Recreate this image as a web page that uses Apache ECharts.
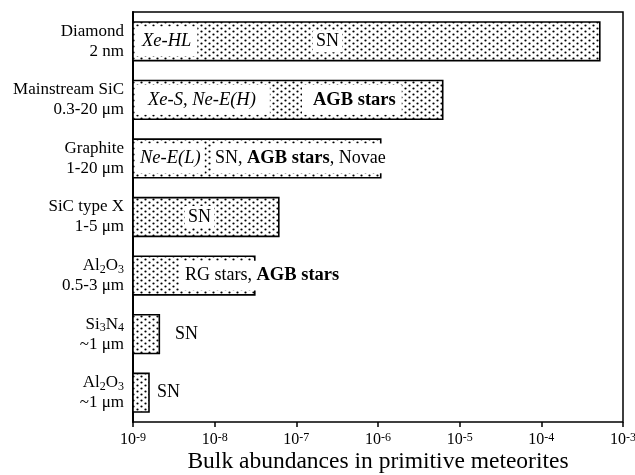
<!DOCTYPE html>
<html><head><meta charset="utf-8">
<script src="https://cdn.jsdelivr.net/npm/echarts@6/dist/echarts.min.js"></script>
<style>html,body{margin:0;padding:0;background:#fff}#c{width:635px;height:475px}</style>
</head><body><div id="c"></div>
<script>
// ---- data ----
const categories = [
  'Diamond\n2 nm',
  'Mainstream SiC\n0.3-20 μm',
  'Graphite\n1-20 μm',
  'SiC type X\n1-5 μm',
  'Al2O3\n0.5-3 μm',
  'Si3N4\n~1 μm',
  'Al2O3\n~1 μm'
];
const abundances = [5.2e-4, 6.2e-6, 1.08e-6, 6.1e-8, 3.1e-8, 2.1e-9, 1.57e-9];
const tickExponents = [-9, -8, -7, -6, -5, -4, -3];
const axisTitle = 'Bulk abundances in primitive meteorites';
// label text per bar: groups of [style, text]
const barLabels = [
  [[['i', 'Xe-HL']], [['n', 'SN']]],
  [[['i', 'Xe-S, Ne-E(H)']], [['b', 'AGB stars']]],
  [[['i', 'Ne-E(L)']], [['n', 'SN, '], ['b', 'AGB stars'], ['n', ', Novae']]],
  [[['n', 'SN']]],
  [[['n', 'RG stars, '], ['b', 'AGB stars']]],
  [[['n', 'SN']]],
  [[['n', 'SN']]]
];

// ---- layout / style ----
const FONT = "'Liberation Serif', 'Times New Roman', serif";
const X_MIN = 1e-9, X_MAX = 1e-3;
const BAR_RATIO = 0.66;
// per label group: dx from bar start, paddings, background mode
const LABEL_LAYOUT = [
  [{dx: 3, pl: 6, pr: 6, bg: 'full'}, {dx: 180, pl: 3, pr: 3, bg: 'tight'}],
  [{dx: 3, pl: 12, pr: 14, bg: 'full'}, {dx: 169, pl: 11, pr: 6, bg: 'full'}],
  [{dx: 3, pl: 4, pr: 4, bg: 'full'}, {dx: 79, pl: 3, pr: 1, bg: 'full'}],
  [{dx: 52, pl: 3, pr: 3, bg: 'tight'}],
  [{dx: 47, pl: 5, pr: 4, bg: 'full'}],
  [{dx: 42, pl: 0, pr: 0, bg: null}],
  [{dx: 24, pl: 0, pr: 0, bg: null}]
];
const LABEL_RICH = {
  i: {fontFamily: FONT, fontSize: 18.5, fontStyle: 'italic', lineHeight: 20, color: '#000'},
  n: {fontFamily: FONT, fontSize: 18, lineHeight: 20, color: '#000'},
  b: {fontFamily: FONT, fontSize: 18.5, fontWeight: 'bold', lineHeight: 20, color: '#000'}
};

function makePattern() {
  const cv = document.createElement('canvas');
  cv.width = 8; cv.height = 6;
  const ctx = cv.getContext('2d');
  ctx.fillStyle = '#fff'; ctx.fillRect(0, 0, 8, 6);
  ctx.fillStyle = '#000';
  [[1.5, 1.5], [5.5, 4.5]].forEach(([x, y]) => {
    ctx.beginPath(); ctx.arc(x, y, 1.1, 0, Math.PI * 2); ctx.fill();
  });
  return {image: cv, repeat: 'repeat'};
}
const pattern = makePattern();

const chart = echarts.init(document.getElementById('c'), null, {renderer: 'canvas'});

const seriesData = abundances.map((v, i) => [v, i]);

chart.setOption({
  animation: false,
  backgroundColor: '#fff',
  grid: {left: 133, right: 12, top: 12, bottom: 53, show: true, borderColor: '#000', borderWidth: 1.5,
         backgroundColor: 'transparent', containLabel: false, outerBoundsMode: 'none'},
  xAxis: {
    type: 'log', logBase: 10, min: X_MIN, max: X_MAX, splitNumber: 6,
    splitLine: {show: false},
    axisLine: {lineStyle: {color: '#000', width: 2}},
    axisTick: {show: true, inside: false, length: 5, lineStyle: {color: '#000', width: 1.5}},
    minorTick: {show: false},
    axisLabel: {
      margin: 10, color: '#000',
      formatter: v => {
        const e = Math.round(Math.log10(v));
        return '{a|10}{s|' + e + '}';
      },
      rich: {
        a: {fontFamily: FONT, fontSize: 16, lineHeight: 16, color: '#000'},
        s: {fontFamily: FONT, fontSize: 12, lineHeight: 10, verticalAlign: 'top', color: '#000'}
      }
    },
    name: axisTitle, nameLocation: 'middle', nameGap: 28, nameMoveOverlap: false,
    nameTextStyle: {fontFamily: FONT, fontSize: 23.5, color: '#000'}
  },
  yAxis: {
    type: 'category', data: categories, inverse: true,
    axisTick: {show: false},
    axisLine: {lineStyle: {color: '#000', width: 2}},
    axisLabel: {
      margin: 9, color: '#000', fontFamily: FONT, fontSize: 17, lineHeight: 20, align: 'right',
      formatter: v => {
        const lines = v.split('\n');
        lines[0] = lines[0].replace(/([A-Za-z])(\d)/g, '$1{s|$2}');
        return lines.join('\n');
      },
      rich: {
        s: {fontFamily: FONT, fontSize: 12, lineHeight: 12, verticalAlign: 'bottom', color: '#000'}
      }
    }
  },
  series: [{
    type: 'custom',
    data: seriesData,
    encode: {x: 0, y: 1},
    clip: false,
    renderItem: (params, api) => {
      const idx = params.dataIndex;
      const v = api.value(0), c = api.value(1);
      const p0 = api.coord([X_MIN, c]);
      const p1 = api.coord([v, c]);
      const band = api.size([1, 1])[1];
      const h = band * BAR_RATIO;
      const children = [{
        type: 'rect',
        shape: {x: p0[0], y: p0[1] - h / 2, width: p1[0] - p0[0], height: h},
        style: {fill: pattern, stroke: '#000', lineWidth: 1.6}
      }];
      barLabels[idx].forEach((group, gi) => {
        const L = LABEL_LAYOUT[idx][gi];
        const vpad = L.bg === 'full' ? (h - 9 - 20) / 2 : 1;
        children.push({
          type: 'text',
          x: p0[0] + L.dx, y: p0[1],
          style: {
            text: group.map(([k, t]) => '{' + k + '|' + t + '}').join(''),
            rich: LABEL_RICH,
            fill: '#000',
            font: '18px ' + FONT,
            backgroundColor: L.bg ? '#fff' : null,
            padding: [vpad, L.pr, vpad, L.pl],
            align: 'left', verticalAlign: 'middle'
          }
        });
      });
      return {type: 'group', children};
    }
  }]
});
</script>
</body></html>
